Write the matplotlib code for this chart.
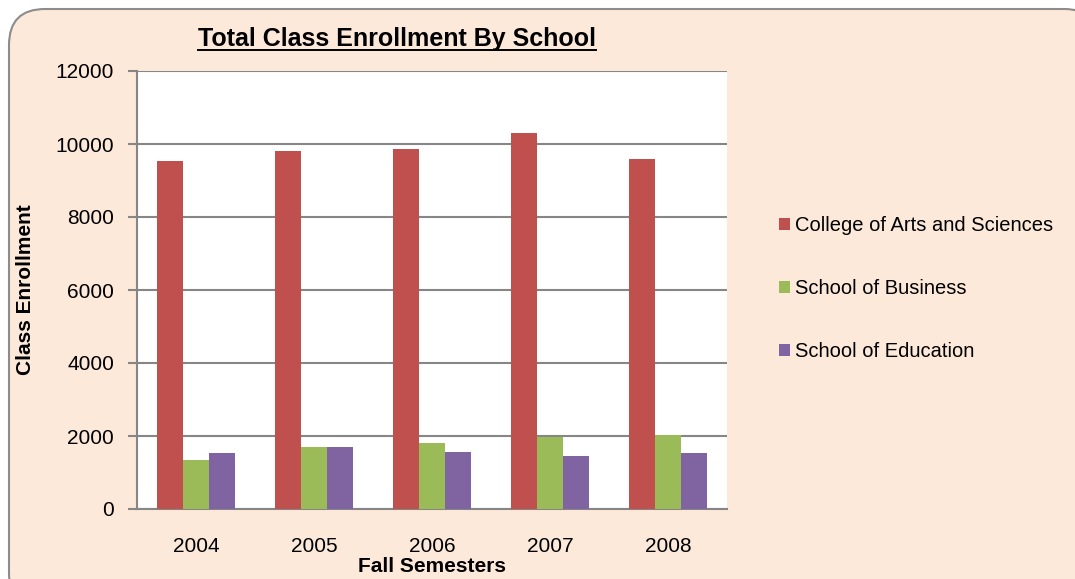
import matplotlib
matplotlib.use("Agg")
import matplotlib.pyplot as plt
import numpy as np
from matplotlib.patches import FancyBboxPatch
from matplotlib.lines import Line2D

plt.rcParams['font.family'] = ['Liberation Sans', 'DejaVu Sans']

years = ["2004", "2005", "2006", "2007", "2008"]
series_names = ["College of Arts and Sciences", "School of Business", "School of Education"]
arts = [9535, 9808, 9863, 10300, 9590]
business = [1353, 1686, 1797, 1983, 2019]
education = [1528, 1686, 1575, 1464, 1528]
yticks = [0, 2000, 4000, 6000, 8000, 10000, 12000]
colors = ["#C0504D", "#9BBB59", "#8064A2"]

W, H = 1075, 579
fig = plt.figure(figsize=(W / 100, H / 100), dpi=100)
fig.patch.set_facecolor("white")

# rounded chart frame (extends beyond right/bottom edges)
frame = FancyBboxPatch((9 / 100, -30 / 100), (1100 - 9) / 100, (H - 9 + 30) / 100,
                       boxstyle="round,pad=0,rounding_size=0.36",
                       transform=fig.dpi_scale_trans, facecolor="#FDE9D9",
                       edgecolor="#8C8C8C", linewidth=1.5, zorder=-5)
fig.patches.append(frame)

ax = fig.add_axes([137 / W, 1 - 509 / H, (727 - 137) / W, (509 - 71) / H])
ax.set_zorder(1)
ax.set_facecolor("white")

x = np.arange(len(years))
w = 0.222
for i, (vals, name) in enumerate(zip([arts, business, education], series_names)):
    ax.bar(x + (i - 1) * w, vals, width=w, color=colors[i], label=name, zorder=3)

ax.set_xlim(-0.5, len(years) - 0.5)
ax.set_ylim(0, 12000)
ax.set_yticks(yticks)
ax.set_yticklabels([str(v) for v in yticks])
ax.set_xticks(x)
ax.set_xticklabels(years)
ax.yaxis.grid(True, color="#868686", linewidth=1.5, zorder=1)
ax.set_axisbelow(True)
for s in ["top", "right"]:
    ax.spines[s].set_visible(False)
for s in ["left", "bottom"]:
    ax.spines[s].set_color("#868686")
    ax.spines[s].set_linewidth(1.5)
ax.tick_params(axis="y", direction="out", length=6.5, width=1.5, color="#868686",
               labelsize=15, pad=10)
ax.tick_params(axis="x", length=0, labelsize=15, pad=20)

# axis titles
fig.text(26 / W, 1 - 290 / H, "Class Enrollment", rotation=90, fontsize=15,
         fontweight="bold", ha="center", va="center")
fig.text(432 / W, 1 - 567 / H, "Fall Semesters", fontsize=15, fontweight="bold",
         ha="center", va="center")

# title with underline
t = fig.text(397 / W, 1 - 46 / H, "Total Class Enrollment By School", fontsize=18,
             fontweight="bold", ha="center", va="baseline")
fig.canvas.draw()
bb = t.get_window_extent()
yl = (H - 49.5) / H
fig.add_artist(Line2D([bb.x0 / W, bb.x1 / W], [yl, yl], transform=fig.transFigure,
                      color="black", linewidth=1.4))

leg = fig.legend(loc="center left", bbox_to_anchor=(779 / W, 1 - 288.5 / H),
                 frameon=False, fontsize=14.5, handlelength=0.55, handleheight=0.55,
                 handletextpad=0.25, labelspacing=2.2, borderpad=0, borderaxespad=0)

fig.savefig("out.png", dpi=100, facecolor="white")
